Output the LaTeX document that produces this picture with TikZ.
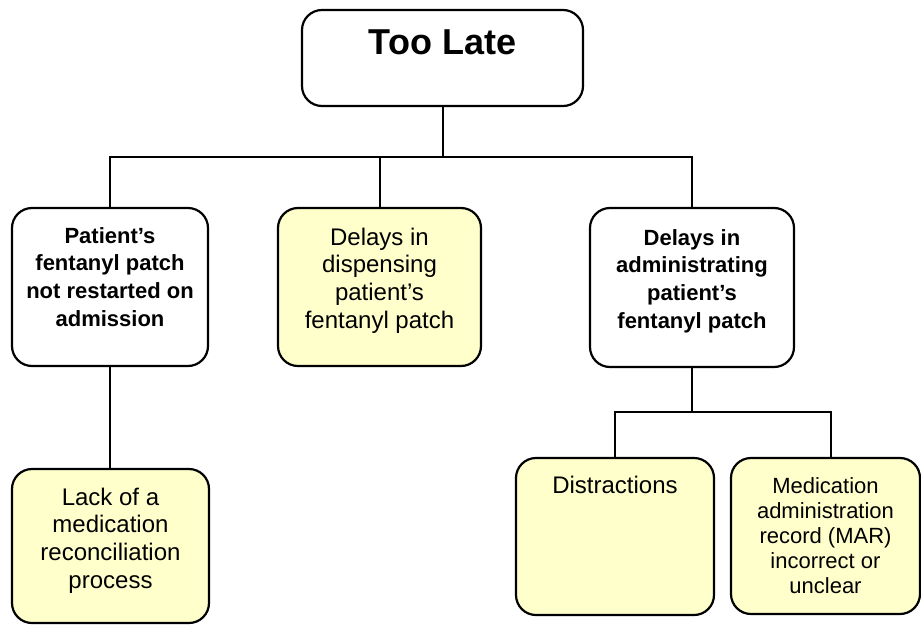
\documentclass[tikz,border=0pt]{standalone}
\usepackage{fontspec}
\setmainfont{Liberation Sans}
\definecolor{yellowfill}{HTML}{FFFFCC}
\newcommand{\sq}{\char"0027\relax}
\begin{document}
\begin{tikzpicture}[x=1pt,y=-1pt,
  box/.style={draw=black, line width=2.2pt, rounded corners=20pt, inner sep=0pt, rectangle},
  wbox/.style={box, fill=white},
  ybox/.style={box, fill=yellowfill},
  conn/.style={draw=black, line width=2pt, line join=miter},
  lbl/.style={inner sep=0pt, anchor=north, align=center, font=\fontsize{24}{27.7}\selectfont},
  blbl/.style={lbl, font=\fontsize{22}{27.7}\selectfont\bfseries},
  slbl/.style={lbl, font=\fontsize{22}{25}\selectfont},
]
\useasboundingbox (0,0) rectangle (921,624);
% boxes
\node[wbox, minimum width=281pt, minimum height=96pt] (top) at (442.5,58) {};
\node[wbox, minimum width=196pt, minimum height=158pt] (left) at (110,287) {};
\node[ybox, minimum width=203pt, minimum height=158pt] (mid) at (379.5,287) {};
\node[wbox, minimum width=204pt, minimum height=159pt] (right) at (692,287.5) {};
\node[ybox, minimum width=197pt, minimum height=154pt] (lack) at (110.5,546) {};
\node[ybox, minimum width=198pt, minimum height=157pt] (distr) at (615,536.5) {};
\node[ybox, minimum width=189pt, minimum height=156pt] (mar) at (825.5,536) {};
% texts
\node[inner sep=0pt, anchor=base, font=\fontsize{36}{40}\selectfont\bfseries] (toptxt) at (442.5,54) {Too Late};
\node[blbl] (lefttxt) at (110,223.6) {\strut Patient\sq s\\fentanyl patch\\not restarted on\\admission};
\node[lbl] (midtxt) at (379.5,225.6) {\strut Delays in\\dispensing\\patient’s\\fentanyl patch};
\node[blbl] (righttxt) at (692,225.6) {\strut Delays in\\administrating\\patient\sq s\\fentanyl patch};
\node[lbl] (lacktxt) at (110.5,485.6) {\strut Lack of a\\medication\\reconciliation\\process};
\node[lbl] (distrtxt) at (615,473.6) {\strut Distractions};
\node[slbl] (martxt) at (825.5,475.5) {\strut Medication\\administration\\record (MAR)\\incorrect or\\unclear};
% connectors
\coordinate (j1) at (442.5,157);
\coordinate (j2) at (692,412);
\draw[conn] (top.south) -- (j1);
\draw[conn] (left.north) |- (j1) -| (right.north);
\draw[conn] (mid.north) -- (mid.north |- j1);
\draw[conn] (left.south) -- (left.south |- lack.north);
\draw[conn] (right.south) -- (j2);
\draw[conn] (distr.north) |- (j2) -| ([xshift=5.5pt]mar.north);
\end{tikzpicture}
\end{document}
